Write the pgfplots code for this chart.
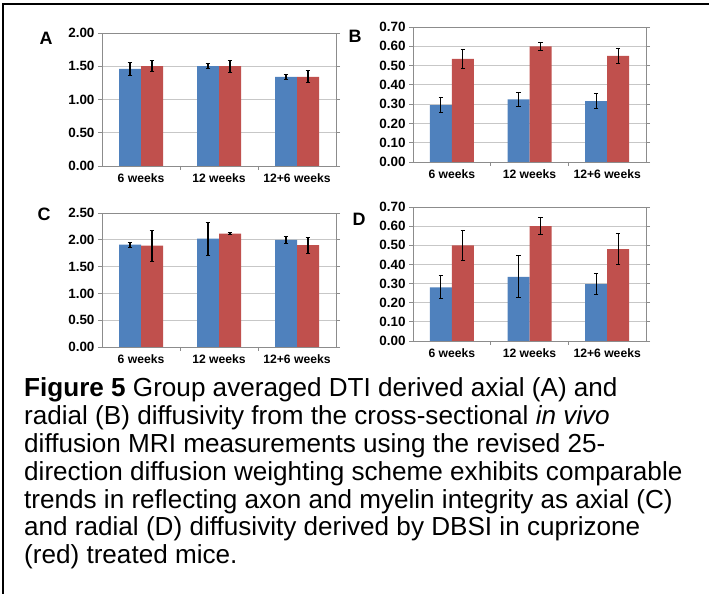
\documentclass[border=0pt]{standalone}
\usepackage{fontspec}
\setmainfont{Liberation Sans}
\usepackage{pgfplots}
\pgfplotsset{compat=1.18}
\definecolor{xblue}{HTML}{4F81BD}
\definecolor{xred}{HTML}{C0504D}

\pgfplotsset{
  panel/.style={
    scale only axis, anchor=south west, clip=false,
    ybar, bar width=22bp,
    xmin=-0.5, xmax=2.5, xtick={0,1,2},
    xticklabels={6 weeks,12 weeks,12+6 weeks},
    ymin=0,
    ymajorgrids, grid style={draw=black!22, line width=0.8bp},
    axis line style={draw=black!45, line width=0.8bp},
    tick align=outside, major tick length=4bp,
    xtick style={draw=none},
    ytick style={draw=black!45, line width=0.8bp},
    xticklabel style={font=\bfseries\fontsize{12.2}{12.2}\selectfont},
    yticklabel style={font=\bfseries\fontsize{13.5}{13.5}\selectfont,
      /pgf/number format/.cd, fixed, fixed zerofill, precision=2, assume math mode=true},
  },
  ctl/.style={fill=xblue, draw=none, bar shift=-11bp,
    error bars/.cd, y dir=both, y explicit,
    error bar style={black, line width=1.1bp},
    error mark options={rotate=90, mark size=2.3bp, line width=1bp, black}},
  cpz/.style={fill=xred, draw=none, bar shift=11bp,
    error bars/.cd, y dir=both, y explicit,
    error bar style={black, line width=1.1bp},
    error mark options={rotate=90, mark size=2.3bp, line width=1bp, black}},
}
% small category-boundary ticks under the x axis
\newcommand{\catticks}{%
  \draw[black!45, line width=0.8bp] (axis cs:0.5,0) -- ++(0pt,-4bp);
  \draw[black!45, line width=0.8bp] (axis cs:1.5,0) -- ++(0pt,-4bp);}

\begin{document}
\begin{tikzpicture}
\useasboundingbox (0,0) rectangle (709bp,594bp);
\draw[line width=1.5bp] (3bp,0bp) -- (3bp,590bp) -- (709bp,590bp);

% A: DTI axial
\begin{axis}[panel, at={(102bp,428bp)}, width=234bp, height=133bp,
  ymax=2, ytick={0,0.5,1,1.5,2}]
\addplot[ctl] coordinates {(0,1.46) +- (0,0.10) (1,1.50) +- (0,0.04) (2,1.34) +- (0,0.04)};
\addplot[cpz] coordinates {(0,1.50) +- (0,0.085) (1,1.50) +- (0,0.09) (2,1.34) +- (0,0.09)};
\catticks
\end{axis}

% B: DTI radial
\begin{axis}[panel, at={(413bp,432bp)}, width=233bp, height=135bp,
  ymax=0.7, ytick={0,0.1,0.2,0.3,0.4,0.5,0.6,0.7}]
\addplot[ctl] coordinates {(0,0.295) +- (0,0.04) (1,0.325) +- (0,0.037) (2,0.315) +- (0,0.04)};
\addplot[cpz] coordinates {(0,0.535) +- (0,0.05) (1,0.60) +- (0,0.022) (2,0.55) +- (0,0.04)};
\catticks
\end{axis}

% C: DBSI axial
\begin{axis}[panel, at={(102bp,247bp)}, width=234bp, height=134bp,
  ymax=2.5, ytick={0,0.5,1,1.5,2,2.5}]
\addplot[ctl] coordinates {(0,1.91) +- (0,0.045) (1,2.02) +- (0,0.31) (2,2.00) +- (0,0.065)};
\addplot[cpz] coordinates {(0,1.89) +- (0,0.29) (1,2.115) +- (0,0.025) (2,1.90) +- (0,0.15)};
\catticks
\end{axis}

% D: DBSI radial
\begin{axis}[panel, at={(413bp,253bp)}, width=233bp, height=134bp,
  ymax=0.7, ytick={0,0.1,0.2,0.3,0.4,0.5,0.6,0.7}]
\addplot[ctl] coordinates {(0,0.28) +- (0,0.06) (1,0.335) +- (0,0.11) (2,0.297) +- (0,0.055)};
\addplot[cpz] coordinates {(0,0.50) +- (0,0.078) (1,0.60) +- (0,0.046) (2,0.48) +- (0,0.08)};
\catticks
\end{axis}

\begin{scope}[every node/.style={font=\bfseries\fontsize{18}{18}\selectfont, inner sep=0pt}]
\node at (46bp,556bp) {A};
\node at (355bp,558bp) {B};
\node at (44bp,380bp) {C};
\node at (359bp,375bp) {D};
\end{scope}

\begin{scope}[every node/.style={font=\fontsize{26.2}{26.2}\selectfont, inner sep=0pt, anchor=base west}]
\node at (24bp,197bp) {\textbf{Figure 5} Group averaged DTI derived axial (A) and};
\node at (24bp,169.2bp) {radial (B) diffusivity from the cross-sectional \textit{in vivo}};
\node at (24bp,141.4bp) {diffusion MRI measurements using the revised 25-};
\node at (24bp,113.6bp) {direction diffusion weighting scheme exhibits comparable};
\node at (24bp,85.8bp) {trends in reflecting axon and myelin integrity as axial (C)};
\node at (24bp,58bp) {and radial (D) diffusivity derived by DBSI in cuprizone};
\node at (24bp,30.2bp) {(red) treated mice.};
\end{scope}
\end{tikzpicture}
\end{document}
